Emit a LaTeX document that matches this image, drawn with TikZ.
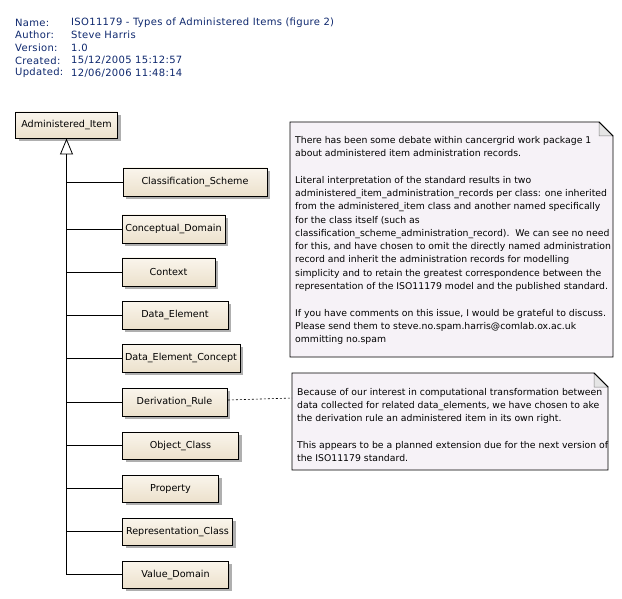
\documentclass[tikz,border=0pt]{standalone}
\usepackage{fontspec}
\setmainfont{DejaVu Sans}
\newfontfamily\hdrfont[LetterSpace=3.2]{DejaVu Sans}
\usetikzlibrary{arrows.meta,shadows}
\definecolor{hdr}{RGB}{14,40,110}
\definecolor{clstop}{RGB}{250,245,236}
\definecolor{clsbot}{RGB}{236,225,204}
\definecolor{notefill}{RGB}{246,242,247}
\definecolor{shadowc}{RGB}{175,175,175}
\tikzset{
  cls/.style={draw=black, line width=0.8pt, top color=clstop, bottom color=clsbot,
    inner sep=0pt, outer sep=0pt, anchor=north west, font=\fontsize{9.6}{12}\selectfont,
    drop shadow={shadow xshift=3pt, shadow yshift=-3pt, fill=shadowc, opacity=1}},
  hdrtext/.style={anchor=west, inner sep=0pt, text=hdr, font=\hdrfont\fontsize{10}{12}\selectfont},
  notebox/.style={inner sep=0pt, outer sep=0pt, anchor=north west},
  notetext/.style={anchor=north west, inner sep=0pt, align=left, font=\fontsize{9.3}{13.3}\selectfont},
  conn/.style={line width=0.8pt},
}
\begin{document}
\begin{tikzpicture}[x=1pt,y=-1pt]
\useasboundingbox[fill=white] (0,0) rectangle (622,599);
% header
\node[hdrtext] (h1) at (15,22.5) {Name:};
\node[hdrtext] (h2) at (15,35) {Author:};
\node[hdrtext] (h3) at (15,48) {Version:};
\node[hdrtext] (h4) at (15,60.5) {Created:};
\node[hdrtext] (h5) at (15,73) {Updated:};
\node[hdrtext] (v1) at (71,22.5) {ISO11179 - Types of Administered Items (figure 2)};
\node[hdrtext] (v2) at (71,35) {Steve Harris};
\node[hdrtext] (v3) at (71,48) {1.0};
\node[hdrtext] (v4) at (71,60.5) {15/12/2005 15:12:57};
\node[hdrtext] (v5) at (71,73) {12/06/2006 11:48:14};
% classes
\node[cls, minimum width=102, minimum height=26] (ai) at (15.5,112) {Administered\_Item};
\node[cls, minimum width=144, minimum height=28] (cs) at (123,168) {Classification\_Scheme};
\node[cls, minimum width=103, minimum height=28] (cd) at (122,215) {Conceptual\_Domain};
\node[cls, minimum width=93, minimum height=28] (cx) at (122,258) {Context};
\node[cls, minimum width=106, minimum height=28] (de) at (122,301) {Data\_Element};
\node[cls, minimum width=118, minimum height=28] (dec) at (122,344) {Data\_Element\_Concept};
\node[cls, minimum width=105, minimum height=28] (dr) at (122,388) {Derivation\_Rule};
\node[cls, minimum width=116, minimum height=27] (oc) at (122.5,432) {Object\_Class};
\node[cls, minimum width=96, minimum height=27] (pr) at (122.5,475) {Property};
\node[cls, minimum width=110, minimum height=27] (rc) at (122.5,518) {Representation\_Class};
\node[cls, minimum width=106, minimum height=27] (vd) at (122.5,561) {Value\_Domain};
% generalisation tree
\coordinate (trunk) at (66.5,155);
\foreach \b in {cs,cd,cx,de,dec,dr,oc,pr,rc,vd}{
  \draw[conn] (trunk) |- (\b.west);
}
\draw[conn, -{Triangle[open, width=13pt, length=16pt, line width=0.8pt]}, shorten >=0.5pt] (trunk) -- (ai.south);
% note 1
\node[notebox, minimum width=323, minimum height=235] (n1) at (290,122) {};
\fill[notefill] (n1.north west) -- ([xshift=-14pt]n1.north east) -- ([yshift=-14pt]n1.north east) -- (n1.south east) -- (n1.south west) -- cycle;
\draw[line width=0.8pt] (n1.north west) -- ([xshift=-14pt]n1.north east) -- ([yshift=-14pt]n1.north east) -- (n1.south east) -- (n1.south west) -- cycle;
\filldraw[fill=gray!20, draw=gray, line width=0.5pt] ([xshift=-14pt]n1.north east) -- ([xshift=-14pt,yshift=-14pt]n1.north east) -- ([yshift=-14pt]n1.north east) -- cycle;
\draw[line width=0.8pt] ([xshift=-14pt]n1.north east) -- ([yshift=-14pt]n1.north east);
\node[notetext] (t1) at (295,136) {There has been some debate within cancergrid work package 1\\
about administered item administration records.\\[13.3pt]
Literal interpretation of the standard results in two\\
administered\_item\_administration\_records per class: one inherited\\
from the administered\_item class and another named specifically\\
for the class itself (such as\\
classification\_scheme\_administration\_record).\ \ We can see no need\\
for this, and have chosen to omit the directly named administration\\
record and inherit the administration records for modelling\\
simplicity and to retain the greatest correspondence between the\\
representation of the ISO11179 model and the published standard.\\[13.3pt]
If you have comments on this issue, I would be grateful to discuss.\\
Please send them to steve.no.spam.harris@comlab.ox.ac.uk\\
ommitting no.spam};
% note 2
\node[notebox, minimum width=316, minimum height=97] (n2) at (292,373) {};
\fill[notefill] (n2.north west) -- ([xshift=-14pt]n2.north east) -- ([yshift=-14pt]n2.north east) -- (n2.south east) -- (n2.south west) -- cycle;
\draw[line width=0.8pt] (n2.north west) -- ([xshift=-14pt]n2.north east) -- ([yshift=-14pt]n2.north east) -- (n2.south east) -- (n2.south west) -- cycle;
\filldraw[fill=gray!20, draw=gray, line width=0.5pt] ([xshift=-14pt]n2.north east) -- ([xshift=-14pt,yshift=-14pt]n2.north east) -- ([yshift=-14pt]n2.north east) -- cycle;
\draw[line width=0.8pt] ([xshift=-14pt]n2.north east) -- ([yshift=-14pt]n2.north east);
\node[notetext] (t2) at (297,388) {Because of our interest in computational transformation between\\
data collected for related data\_elements, we have chosen to ake\\
the derivation rule an administered item in its own right.\\[13.3pt]
This appears to be a planned extension due for the next version of\\
the ISO11179 standard.};
% note link
\draw[line width=0.6pt, dash pattern=on 2pt off 2pt] ([xshift=1pt,yshift=2pt]dr.east) -- ([yshift=4pt]n2.west |- dr.east);
\end{tikzpicture}
\end{document}
